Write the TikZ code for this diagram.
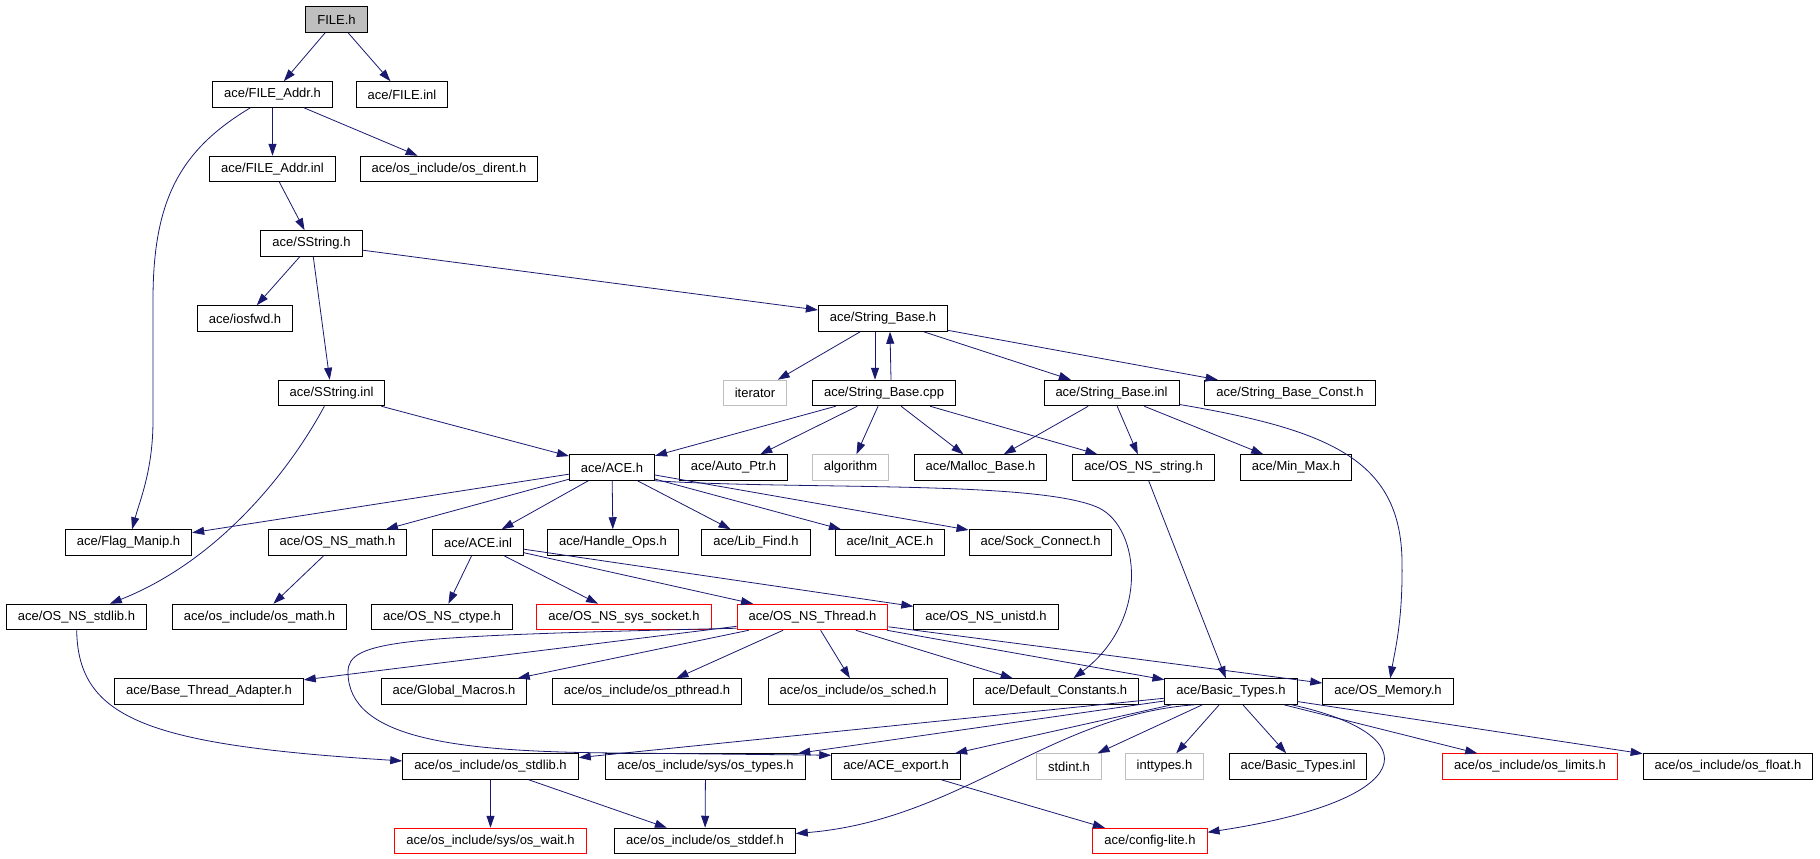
\documentclass[tikz,border=0pt]{standalone}
\usepackage{fontspec}
\setmainfont{Liberation Sans}
\usepackage{tikz}
\usetikzlibrary{arrows.meta}
\definecolor{edgeblue}{HTML}{191970}
\definecolor{rootgrey}{HTML}{BFBFBF}
\tikzset{
	incbox/.style={draw=black, line width=1pt, minimum height=25.5pt, inner xsep=11.5pt, inner ysep=0pt, font=\fontsize{13}{15}\selectfont},
	redbox/.style={incbox, draw=red},
	sysbox/.style={incbox, draw=rootgrey},
	rootbox/.style={incbox, fill=rootgrey},
	incl/.style={draw=edgeblue, line width=0.8pt, -{Triangle[length=12pt,width=8pt]}},
}

\begin{document}
\begin{tikzpicture}[x=1pt,y=-1pt]
		\useasboundingbox (0,0) rectangle (1820,859);
		% include files, row by row
		\node[rootbox] (FILEh) at (336.5,19.5) {FILE.h};
		\node[incbox] (FILEAddrh) at (272.5,94.5) {ace/FILE\_Addr.h};
		\node[incbox] (FILEinl) at (402,94.5) {ace/FILE.inl};
		\node[incbox] (FILEAddrinl) at (272.5,169) {ace/FILE\_Addr.inl};
		\node[incbox] (osdirent) at (449,169) {ace/os\_include/os\_dirent.h};
		\node[incbox] (SStringh) at (311.5,243.5) {ace/SString.h};
		\node[incbox] (iosfwd) at (245,318.5) {ace/iosfwd.h};
		\node[incbox] (StringBaseh) at (883,318.5) {ace/String\_Base.h};
		\node[incbox] (SStringinl) at (331.5,393) {ace/SString.inl};
		\node[sysbox] (iterator) at (755,393) {iterator};
		\node[incbox] (StringBasecpp) at (884,393) {ace/String\_Base.cpp};
		\node[incbox] (StringBaseinl) at (1111.5,393) {ace/String\_Base.inl};
		\node[incbox] (StringBaseConst) at (1290,393) {ace/String\_Base\_Const.h};
		\node[incbox] (ACEh) at (612,467.5) {ace/ACE.h};
		\node[incbox] (AutoPtr) at (733.5,467.5) {ace/Auto\_Ptr.h};
		\node[sysbox] (algorithm) at (850.5,467.5) {algorithm};
		\node[incbox] (MallocBase) at (980.5,467.5) {ace/Malloc\_Base.h};
		\node[incbox] (OSNSstring) at (1143.5,467.5) {ace/OS\_NS\_string.h};
		\node[incbox] (MinMax) at (1296,467.5) {ace/Min\_Max.h};
		\node[incbox] (FlagManip) at (128.5,542.5) {ace/Flag\_Manip.h};
		\node[incbox] (OSNSmath) at (337.5,542.5) {ace/OS\_NS\_math.h};
		\node[incbox] (ACEinl) at (478,542.5) {ace/ACE.inl};
		\node[incbox] (HandleOps) at (613,542.5) {ace/Handle\_Ops.h};
		\node[incbox] (LibFind) at (756,542.5) {ace/Lib\_Find.h};
		\node[incbox] (InitACE) at (890,542.5) {ace/Init\_ACE.h};
		\node[incbox] (SockConnect) at (1040.5,542.5) {ace/Sock\_Connect.h};
		\node[incbox] (OSNSstdlib) at (76.5,617) {ace/OS\_NS\_stdlib.h};
		\node[incbox] (osmath) at (259.5,617) {ace/os\_include/os\_math.h};
		\node[incbox] (OSNSctype) at (442,617) {ace/OS\_NS\_ctype.h};
		\node[redbox] (OSNSsyssocket) at (624,617) {ace/OS\_NS\_sys\_socket.h};
		\node[redbox] (OSNSThread) at (812.5,617) {ace/OS\_NS\_Thread.h};
		\node[incbox] (OSNSunistd) at (986,617) {ace/OS\_NS\_unistd.h};
		\node[incbox] (BaseThreadAdapter) at (209,691.5) {ace/Base\_Thread\_Adapter.h};
		\node[incbox] (GlobalMacros) at (454,691.5) {ace/Global\_Macros.h};
		\node[incbox] (ospthread) at (647,691.5) {ace/os\_include/os\_pthread.h};
		\node[incbox] (ossched) at (858,691.5) {ace/os\_include/os\_sched.h};
		\node[incbox] (DefaultConstants) at (1056,691.5) {ace/Default\_Constants.h};
		\node[incbox] (BasicTypesh) at (1231,691.5) {ace/Basic\_Types.h};
		\node[incbox] (OSMemory) at (1388,691.5) {ace/OS\_Memory.h};
		\node[incbox] (osstdlib) at (490.5,766.5) {ace/os\_include/os\_stdlib.h};
		\node[incbox] (systypes) at (705.5,766.5) {ace/os\_include/sys/os\_types.h};
		\node[incbox] (ACEexport) at (896,766.5) {ace/ACE\_export.h};
		\node[sysbox] (stdint) at (1069,766.5) {stdint.h};
		\node[sysbox] (inttypes) at (1164.5,766.5) {inttypes.h};
		\node[incbox] (BasicTypesinl) at (1298,766.5) {ace/Basic\_Types.inl};
		\node[redbox] (oslimits) at (1530,766.5) {ace/os\_include/os\_limits.h};
		\node[incbox] (osfloat) at (1728,766.5) {ace/os\_include/os\_float.h};
		\node[redbox] (syswait) at (490.5,841) {ace/os\_include/sys/os\_wait.h};
		\node[incbox] (osstddef) at (705,841) {ace/os\_include/os\_stddef.h};
		\node[redbox] (configlite) at (1150,841) {ace/config-lite.h};

		% top part
		\draw[incl] (FILEh) -- (FILEAddrh);
		\draw[incl] (FILEh) -- (FILEinl);
		\draw[incl] (FILEAddrh) -- (FILEAddrinl);
		\draw[incl] (FILEAddrh) -- (osdirent);
		\draw[incl] (FILEAddrh) .. controls (180,150) and (153,200) .. (153,300) -- (153,420) .. controls (153,470) and (140,500) .. (FlagManip);
		\draw[incl] (FILEAddrinl) -- (SStringh);
		\draw[incl] (SStringh) -- (iosfwd);
		\draw[incl] (SStringh) -- (SStringinl);
		\draw[incl] (SStringh) -- (StringBaseh);
		\draw[incl] (SStringinl) -- (ACEh);
		\draw[incl] (SStringinl) .. controls (290,470) and (220,560) .. (OSNSstdlib);
		% String_Base
		\draw[incl] (StringBaseh) -- (iterator);
		\draw[incl] ([xshift=-8pt]StringBaseh.south) -- ([xshift=-9pt]StringBasecpp.north);
		\draw[incl] ([xshift=7pt]StringBasecpp.north) -- ([xshift=7pt]StringBaseh.south);
		\draw[incl] (StringBaseh) -- (StringBaseinl);
		\draw[incl] (StringBaseh) -- (StringBaseConst);
		\draw[incl] (StringBasecpp) -- (ACEh);
		\draw[incl] (StringBasecpp) -- (AutoPtr);
		\draw[incl] (StringBasecpp) -- (algorithm);
		\draw[incl] (StringBasecpp) -- (MallocBase);
		\draw[incl] (StringBasecpp) -- (OSNSstring);
		\draw[incl] (StringBaseinl) -- (MallocBase);
		\draw[incl] (StringBaseinl) -- (OSNSstring);
		\draw[incl] (StringBaseinl) -- (MinMax);
		\draw[incl] (StringBaseinl) .. controls (1330,430) and (1400,460) .. (1402,560) .. controls (1403,620) and (1395,650) .. (OSMemory);
		\draw[incl] (OSNSstring) -- (BasicTypesh);
		% ACE.h and ACE.inl
		\draw[incl] (ACEh) -- (FlagManip);
		\draw[incl] (ACEh) -- (OSNSmath);
		\draw[incl] (ACEh) -- (ACEinl);
		\draw[incl] (ACEh) -- (HandleOps);
		\draw[incl] (ACEh) -- (LibFind);
		\draw[incl] (ACEh) -- (InitACE);
		\draw[incl] (ACEh) -- (SockConnect);
		\draw[incl] (ACEh.south east) .. controls (800,490) and (1040,480) .. (1099,508) .. controls (1140,528) and (1150,620) .. (DefaultConstants);
		\draw[incl] (OSNSmath) -- (osmath);
		\draw[incl] (ACEinl) -- (OSNSctype);
		\draw[incl] (ACEinl) -- (OSNSsyssocket);
		\draw[incl] (ACEinl) -- (OSNSThread);
		\draw[incl] (ACEinl) -- (OSNSunistd);
		\draw[incl] (OSNSstdlib) .. controls (78,720) and (150,745) .. (osstdlib);
		% OS_NS_Thread.h
		\draw[incl] (OSNSThread) -- (BaseThreadAdapter);
		\draw[incl] (OSNSThread) -- (GlobalMacros);
		\draw[incl] (OSNSThread) -- (ospthread);
		\draw[incl] (OSNSThread) -- (ossched);
		\draw[incl] (OSNSThread) -- (DefaultConstants);
		\draw[incl] (OSNSThread) -- (BasicTypesh);
		\draw[incl] (OSNSThread) -- (OSMemory);
		\draw[incl] ([yshift=2pt]OSNSThread.south west) .. controls (400,636) and (348,640) .. (348,672) .. controls (348,740) and (460,752) .. (620,753) -- ([yshift=-2pt]ACEexport.north west);
		% Basic_Types.h
		\draw[incl] (BasicTypesh) -- (osstdlib);
		\draw[incl] (BasicTypesh) -- (systypes);
		\draw[incl] (BasicTypesh) -- (ACEexport);
		\draw[incl] ([xshift=-36pt]BasicTypesh.south) .. controls (1050,715) and (960,820) .. (osstddef);
		\draw[incl] (BasicTypesh) -- (stdint);
		\draw[incl] (BasicTypesh) -- (inttypes);
		\draw[incl] (BasicTypesh) -- (BasicTypesinl);
		\draw[incl] (BasicTypesh) .. controls (1430,735) and (1420,800) .. (configlite);
		\draw[incl] (BasicTypesh) -- (oslimits);
		\draw[incl] (BasicTypesh) -- (osfloat);
		% bottom rows
		\draw[incl] (ACEexport) -- (configlite);
		\draw[incl] (osstdlib) -- (syswait);
		\draw[incl] (osstdlib) -- (osstddef);
		\draw[incl] (systypes) -- (osstddef);
\end{tikzpicture}
\end{document}
